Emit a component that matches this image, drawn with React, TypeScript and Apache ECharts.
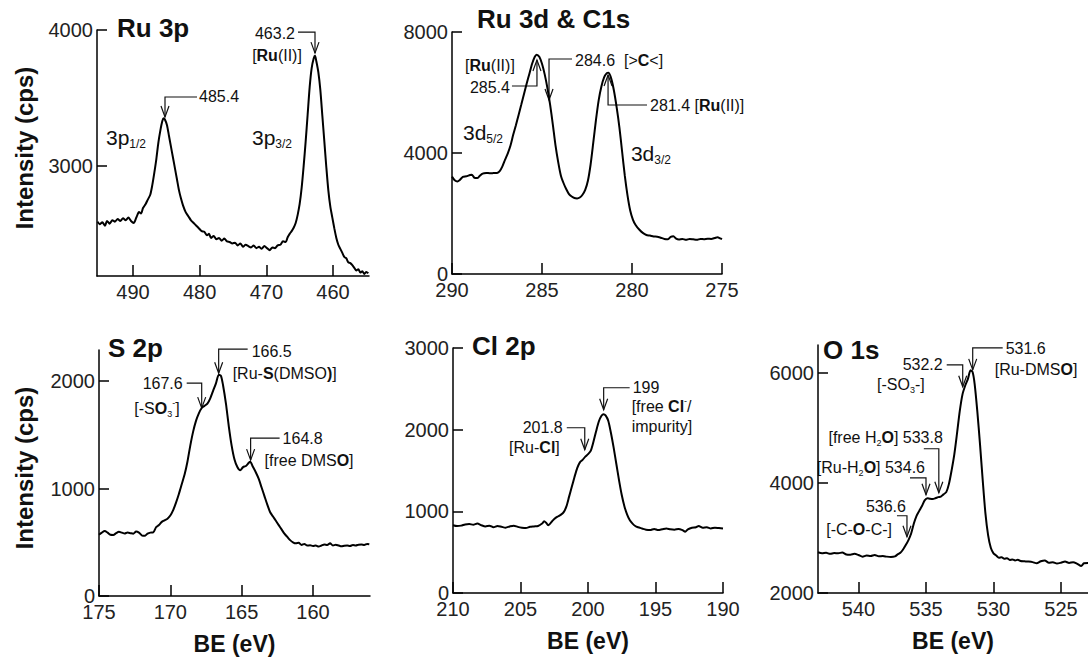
import React, { useEffect, useRef } from "react";
import * as echarts from "echarts";

const FONT = "'Liberation Sans', Arial, Helvetica, sans-serif";
const INK = "#111";

// ---------- data (BE in eV, intensity in cps) ----------
const ru3p = [
  [495.3, 2590], [495.0, 2570], [494.6, 2585], [494.2, 2560], [493.9, 2595], [493.5, 2575], [493.1, 2600],
  [492.7, 2590], [492.3, 2610], [491.9, 2595], [491.5, 2615], [491.1, 2600], [490.7, 2620], [490.3, 2595],
  [489.9, 2580], [489.5, 2620], [489.1, 2660], [488.8, 2650], [488.5, 2690], [488.1, 2720], [487.8, 2750],
  [487.4, 2790], [487.1, 2860], [486.8, 2950], [486.5, 3050], [486.2, 3170], [485.9, 3260], [485.6, 3330],
  [485.4, 3350], [485.2, 3340], [484.9, 3300], [484.6, 3220], [484.3, 3140], [484.0, 3060], [483.7, 2980],
  [483.4, 2900], [483.1, 2820], [482.8, 2760], [482.5, 2710], [482.1, 2660], [481.7, 2630], [481.3, 2600],
  [480.9, 2580], [480.5, 2560], [480.1, 2540], [479.7, 2520], [479.3, 2515], [478.9, 2490], [478.6, 2500],
  [478.3, 2470], [477.9, 2485], [477.5, 2460], [477.1, 2470], [476.7, 2450], [476.3, 2465], [475.9, 2445],
  [475.5, 2440], [475.1, 2430], [474.7, 2435], [474.3, 2415], [473.9, 2430], [473.5, 2405], [473.1, 2420],
  [472.7, 2410], [472.3, 2400], [471.9, 2415], [471.5, 2395], [471.1, 2405], [470.7, 2390], [470.3, 2410],
  [469.9, 2395], [469.5, 2380], [469.1, 2400], [468.7, 2395], [468.3, 2415], [467.9, 2420], [467.5, 2445],
  [467.1, 2440], [466.8, 2475], [466.5, 2500], [466.2, 2520], [465.9, 2545], [465.6, 2580], [465.3, 2640],
  [465.0, 2720], [464.7, 2840], [464.4, 3000], [464.1, 3180], [463.8, 3380], [463.5, 3580], [463.2, 3720],
  [462.9, 3790], [462.7, 3810], [462.5, 3770], [462.2, 3690], [461.9, 3560], [461.6, 3370], [461.3, 3180],
  [461.0, 2990], [460.7, 2820], [460.4, 2700], [460.1, 2620], [459.8, 2540], [459.5, 2470], [459.2, 2420],
  [458.9, 2390], [458.6, 2360], [458.3, 2330], [458.0, 2320], [457.7, 2290], [457.4, 2285], [457.1, 2270],
  [456.8, 2250], [456.5, 2230], [456.2, 2240], [455.9, 2215], [455.6, 2225], [455.3, 2205], [455.0, 2220],
  [454.7, 2210],
];

const ru3d = [
  [290.0, 3220], [289.85, 3100], [289.7, 3060], [289.55, 3120], [289.4, 3210], [289.2, 3230], [289.0, 3270],
  [288.9, 3280], [288.75, 3180], [288.6, 3170], [288.45, 3250], [288.3, 3320], [288.1, 3340], [287.9, 3330],
  [287.7, 3335], [287.5, 3340], [287.35, 3400], [287.2, 3560], [287.05, 3780], [286.9, 3990], [286.75, 4250],
  [286.6, 4600], [286.45, 4920], [286.3, 5260], [286.15, 5600], [286.0, 5950], [285.85, 6300], [285.7, 6620],
  [285.55, 6950], [285.4, 7180], [285.3, 7250], [285.15, 7180], [285.0, 6950], [284.85, 6600], [284.7, 6150],
  [284.55, 5600], [284.4, 4950], [284.25, 4250], [284.1, 3700], [283.95, 3250], [283.8, 3000], [283.65, 2800],
  [283.5, 2640], [283.35, 2560], [283.2, 2510], [283.05, 2500], [282.9, 2530], [282.75, 2620], [282.6, 2780],
  [282.45, 3080], [282.3, 3620], [282.15, 4350], [282.0, 5100], [281.85, 5750], [281.7, 6200], [281.55, 6500],
  [281.4, 6640], [281.3, 6650], [281.15, 6450], [281.0, 6050], [280.85, 5500], [280.7, 4850], [280.55, 4050],
  [280.4, 3250], [280.25, 2600], [280.1, 2100], [279.95, 1800], [279.8, 1620], [279.6, 1470], [279.4, 1360],
  [279.2, 1290], [279.0, 1270], [278.8, 1240], [278.6, 1235], [278.4, 1200], [278.2, 1160], [278.0, 1150],
  [277.85, 1230], [277.7, 1250], [277.55, 1170], [277.4, 1140], [277.2, 1160], [277.0, 1130], [276.8, 1160],
  [276.6, 1145], [276.4, 1130], [276.2, 1160], [276.0, 1150], [275.8, 1165], [275.6, 1160], [275.4, 1190],
  [275.25, 1215], [275.1, 1180], [275.0, 1150],
];

const s2p = [
  [175.0, 570], [174.8, 590], [174.6, 605], [174.4, 590], [174.2, 570], [174.0, 568], [173.8, 585], [173.6, 598],
  [173.4, 590], [173.2, 582], [173.0, 590], [172.8, 585], [172.6, 580], [172.4, 600], [172.2, 590], [172.0, 565],
  [171.8, 560], [171.6, 580], [171.4, 590], [171.2, 592], [171.0, 640], [170.8, 660], [170.6, 690], [170.4, 705],
  [170.2, 720], [170.0, 750], [169.8, 800], [169.6, 870], [169.4, 950], [169.2, 1040], [169.0, 1130], [168.8, 1250],
  [168.6, 1400], [168.4, 1530], [168.2, 1630], [168.0, 1700], [167.8, 1750], [167.6, 1770], [167.4, 1790],
  [167.2, 1840], [167.0, 1910], [166.8, 1980], [166.6, 2060], [166.45, 2050], [166.3, 1960], [166.1, 1790],
  [165.9, 1580], [165.7, 1400], [165.5, 1270], [165.3, 1200], [165.1, 1170], [164.9, 1200], [164.7, 1210],
  [164.5, 1240], [164.4, 1250], [164.2, 1200], [164.0, 1150], [163.8, 1090], [163.6, 1010], [163.4, 930],
  [163.2, 850], [163.0, 780], [162.8, 740], [162.6, 700], [162.4, 660], [162.2, 620], [162.0, 580], [161.8, 550],
  [161.6, 520], [161.4, 500], [161.2, 490], [161.0, 495], [160.8, 475], [160.6, 485], [160.4, 470], [160.2, 472],
  [160.0, 465], [159.8, 470], [159.6, 460], [159.4, 470], [159.2, 480], [159.0, 475], [158.8, 490], [158.6, 470],
  [158.4, 478], [158.2, 470], [158.0, 462], [157.8, 468], [157.6, 470], [157.4, 465], [157.2, 475], [157.0, 470],
  [156.8, 478], [156.6, 480], [156.4, 475], [156.2, 485], [156.05, 482],
];

const cl2p = [
  [210.0, 830], [209.7, 820], [209.4, 825], [209.1, 840], [208.8, 845], [208.5, 835], [208.2, 850], [207.9, 830],
  [207.6, 815], [207.3, 825], [207.0, 805], [206.7, 820], [206.4, 810], [206.1, 800], [205.8, 815], [205.5, 825],
  [205.2, 810], [204.9, 800], [204.6, 795], [204.3, 810], [204.0, 815], [203.7, 820], [203.4, 850], [203.25, 880],
  [203.1, 860], [202.95, 830], [202.8, 850], [202.6, 890], [202.4, 920], [202.2, 940], [202.0, 960], [201.8, 990],
  [201.6, 1060], [201.4, 1180], [201.2, 1300], [201.0, 1420], [200.8, 1530], [200.6, 1600], [200.4, 1630],
  [200.2, 1670], [200.0, 1700], [199.8, 1740], [199.6, 1850], [199.4, 1980], [199.2, 2100], [199.0, 2170],
  [198.85, 2190], [198.7, 2175], [198.5, 2110], [198.3, 1960], [198.1, 1780], [197.9, 1580], [197.7, 1380],
  [197.5, 1200], [197.3, 1060], [197.1, 960], [196.9, 890], [196.7, 850], [196.5, 820], [196.3, 805], [196.0, 790],
  [195.7, 775], [195.4, 770], [195.1, 785], [194.8, 770], [194.5, 780], [194.2, 790], [193.9, 780], [193.6, 775],
  [193.3, 785], [193.0, 770], [192.8, 750], [192.6, 780], [192.3, 800], [192.0, 805], [191.8, 820], [191.5, 800],
  [191.2, 805], [190.9, 790], [190.6, 800], [190.3, 795], [190.0, 790],
];

const o1s = [
  [543.0, 2740], [542.7, 2720], [542.4, 2730], [542.1, 2710], [541.8, 2725], [541.5, 2720], [541.2, 2735],
  [540.9, 2700], [540.6, 2695], [540.3, 2710], [540.0, 2690], [539.7, 2660], [539.4, 2680], [539.1, 2670],
  [538.8, 2690], [538.5, 2665], [538.2, 2670], [537.9, 2660], [537.6, 2655], [537.3, 2665], [537.1, 2700],
  [536.9, 2730], [536.7, 2790], [536.5, 2870], [536.3, 2960], [536.1, 3080], [535.9, 3260], [535.7, 3400],
  [535.5, 3490], [535.3, 3580], [535.1, 3680], [534.9, 3720], [534.7, 3710], [534.5, 3705], [534.3, 3720],
  [534.1, 3740], [533.9, 3750], [533.7, 3790], [533.5, 3830], [533.3, 3980], [533.1, 4230], [532.9, 4520],
  [532.7, 4900], [532.5, 5300], [532.3, 5600], [532.1, 5760], [531.9, 5880], [531.7, 6040], [531.55, 6010],
  [531.4, 5800], [531.2, 5300], [531.0, 4700], [530.8, 4050], [530.6, 3450], [530.4, 3050], [530.2, 2820],
  [530.0, 2720], [529.8, 2680], [529.6, 2640], [529.4, 2650], [529.2, 2620], [529.0, 2630], [528.8, 2600],
  [528.6, 2610], [528.4, 2590], [528.2, 2605], [528.0, 2580], [527.7, 2575], [527.4, 2570], [527.1, 2560],
  [526.8, 2540], [526.5, 2575], [526.2, 2590], [525.9, 2550], [525.6, 2560], [525.3, 2535], [525.0, 2550],
  [524.7, 2570], [524.4, 2545], [524.1, 2560], [523.8, 2530], [523.5, 2490], [523.3, 2540], [523.0, 2545],
];

const panelTitles = ["Ru 3p", "Ru 3d & C1s", "S 2p", "Cl 2p", "O 1s"];
const xRanges = [[454.6, 495.4], [275, 290], [156, 175], [190, 210], [523, 543]];
const yRanges = [[2190, 4000], [0, 8000], [0, 2290], [0, 3000], [2000, 6500]];
const xTicks = [[460, 470, 480, 490], [275, 280, 285, 290], [160, 165, 170, 175], [190, 195, 200, 205, 210], [525, 530, 535, 540]];
const yTicks = [[3000, 4000], [0, 4000, 8000], [0, 1000, 2000], [0, 1000, 2000, 3000], [2000, 4000, 6000]];
const seriesData = [ru3p, ru3d, s2p, cl2p, o1s];

// ---------- layout ----------
const GRIDS = [
  { left: 97, top: 30, width: 272, height: 246 },
  { left: 452, top: 32, width: 270, height: 242 },
  { left: 99, top: 350, width: 271, height: 246 },
  { left: 453, top: 348, width: 270, height: 245 },
  { left: 818, top: 345, width: 270, height: 248 },
];
const TITLE_POS = [[117, 28], [477, 19], [108, 348], [472, 346], [823, 350]];

// annotations: arrow tip in data coords, leader geometry in px
const annotations = [
  { grid: 0, tip: [485.2, 3360], dir: "down", rise: 20, run: 32, texts: [{ t: "485.4", dx: 34, dy: -20, align: "left" }] },
  { grid: 0, tip: [462.7, 3830], dir: "down", rise: 21, run: -17, texts: [{ t: "463.2", dx: -20, dy: -20, align: "right" }, { t: "[{b|Ru}(II)]", dx: -38, dy: 2, align: "center" }] },
  { grid: 1, tip: [285.28, 7074], dir: "up", rise: 26, run: -25, texts: [{ t: "285.4", dx: -27, dy: 27, align: "right" }, { t: "[{b|Ru}(II)]", dx: -47, dy: 5, align: "center" }] },
  { grid: 1, tip: [284.61, 5752], dir: "down", rise: 41, run: 23, texts: [{ t: "284.6  [>{b|C}<]", dx: 26, dy: -40, align: "left" }] },
  { grid: 1, tip: [281.33, 6578], dir: "up", rise: 30, run: 39, texts: [{ t: "281.4 [{b|Ru}(II)]", dx: 42, dy: 30, align: "left" }] },
  { grid: 2, tip: [166.61, 2074], dir: "down", rise: 24, run: 29, texts: [{ t: "166.5", dx: 33, dy: -22, align: "left" }, { t: "[Ru-{b|S}(DMSO{b|)}]", dx: 14, dy: 0, align: "left" }] },
  { grid: 2, tip: [167.8, 1749], dir: "down", rise: 25, run: -15, texts: [{ t: "167.6", dx: -19, dy: -25, align: "right" }, { t: "[-S{b|O}{sub|3}{sup|-}]", dx: -22, dy: 0, align: "right" }] },
  { grid: 2, tip: [164.37, 1265], dir: "down", rise: 22, run: 29, texts: [{ t: "164.8", dx: 32, dy: -22, align: "left" }, { t: "[free DMS{b|O}]", dx: 14, dy: 0, align: "left" }] },
  { grid: 3, tip: [198.84, 2244], dir: "down", rise: 22, run: 26, texts: [{ t: "199", dx: 29, dy: -22, align: "left" }, { t: "[free {b|Cl}{sup|-}/", dx: 28, dy: -3, align: "left" }, { t: "impurity]", dx: 28, dy: 17, align: "left" }] },
  { grid: 3, tip: [200.24, 1754], dir: "down", rise: 22, run: -18, texts: [{ t: "201.8", dx: -22, dy: -22, align: "right" }, { t: "[Ru-{b|Cl}]", dx: -25, dy: -2, align: "right" }] },
  { grid: 4, tip: [531.54, 6049], dir: "down", rise: 22, run: 30, texts: [{ t: "531.6", dx: 33, dy: -21, align: "left" }, { t: "[Ru-DMS{b|O}]", dx: 22, dy: 0, align: "left" }] },
  { grid: 4, tip: [532.28, 5741], dir: "down", rise: 22, run: -16, texts: [{ t: "532.2", dx: -20, dy: -22, align: "right" }, { t: "[-SO{sub|3}-]", dx: -38, dy: -2, align: "right" }] },
  { grid: 4, tip: [534.05, 3819], dir: "down", rise: 44, run: -15, texts: [{ t: "[free H{sub|2}{b|O}] 533.8", dx: 4, dy: -55, align: "right" }] },
  { grid: 4, tip: [535.0, 3782], dir: "down", rise: 17, run: -16, texts: [{ t: "[Ru-H{sub|2}{b|O}] 534.6", dx: -1, dy: -27, align: "right" }] },
  { grid: 4, tip: [536.41, 3021], dir: "down", rise: 21, run: -10, texts: [{ t: "536.6", dx: -1, dy: -30, align: "right" }, { t: "[-C-{b|O}-C-]", dx: -15, dy: -7, align: "right" }] },
];

// orbital labels (position in data coords)
const orbitalLabels = [
  { grid: 0, at: [494.05, 3206], t: "3p{sub|1/2}" },
  { grid: 0, at: [472.15, 3206], t: "3p{sub|3/2}" },
  { grid: 1, at: [289.39, 4694], t: "3d{sub|5/2}" },
  { grid: 1, at: [280.06, 4000], t: "3d{sub|3/2}" },
];

function richStyles(size: number) {
  const s = Math.round(size * 0.55);
  return {
    b: { fontSize: size, fontFamily: FONT, fontWeight: "bold", lineHeight: size + 4, fill: INK },
    sub: { fontSize: s, fontFamily: FONT, lineHeight: s, verticalAlign: "bottom", fill: INK },
    sup: { fontSize: s, fontFamily: FONT, lineHeight: s, verticalAlign: "top", fill: INK },
  };
}

function textEl(t: string, x: number, y: number, size: number, align: string, extra: any = {}) {
  return {
    type: "text",
    x,
    y,
    silent: true,
    style: {
      text: t,
      fill: INK,
      fontSize: size,
      fontFamily: FONT,
      lineHeight: size + 4,
      align,
      verticalAlign: "middle",
      rich: richStyles(size),
      ...extra,
    },
  };
}

const plain = (v: number) => String(v);

export default function App() {
  const ref = useRef<HTMLDivElement>(null);

  useEffect(() => {
    if (!ref.current) return;
    const chart = echarts.init(ref.current, null, { renderer: "svg" });

    const axisLineStyle = { color: "#000", width: 1.5 };
    const option: any = {
      animation: false,
      backgroundColor: "#fff",
      grid: GRIDS.map((g) => ({ ...g, containLabel: false })),
      xAxis: GRIDS.map((_, i) => ({
        type: "value",
        gridIndex: i,
        min: xRanges[i][0],
        max: xRanges[i][1],
        inverse: true,
        axisLine: { show: true, onZero: false, lineStyle: axisLineStyle },
        axisTick: { show: true, inside: true, length: 11, lineStyle: axisLineStyle, customValues: xTicks[i] },
        axisLabel: { show: true, customValues: xTicks[i], formatter: plain, fontSize: 20, fontFamily: FONT, color: "#222", margin: 6 },
        splitLine: { show: false },
        ...(i >= 2
          ? {
              name: "BE (eV)",
              nameLocation: "middle",
              nameGap: 36,
              nameTextStyle: { fontSize: 23, fontWeight: "bold", fontFamily: FONT, color: "#111" },
            }
          : {}),
      })),
      yAxis: GRIDS.map((_, i) => ({
        type: "value",
        gridIndex: i,
        min: yRanges[i][0],
        max: yRanges[i][1],
        axisLine: { show: true, onZero: false, lineStyle: axisLineStyle },
        axisTick: { show: true, inside: true, length: 10, lineStyle: axisLineStyle, customValues: yTicks[i] },
        axisLabel: { show: true, customValues: yTicks[i], formatter: plain, fontSize: 20, fontFamily: FONT, color: "#222", margin: 4 },
        splitLine: { show: false },
      })),
      series: seriesData.map((d, i) => ({
        type: "line",
        xAxisIndex: i,
        yAxisIndex: i,
        data: d,
        showSymbol: false,
        symbol: "none",
        smooth: 0.25,
        lineStyle: { color: "#000", width: 2 },
        silent: true,
      })),
    };
    chart.setOption(option);

    const g: any[] = [];
    panelTitles.forEach((t, i) => {
      g.push(textEl(t, TITLE_POS[i][0], TITLE_POS[i][1], 26, "left", { fontWeight: "bold" }));
    });
    // y axis titles
    [148, 468].forEach((y) => {
      g.push({
        type: "text",
        x: 24,
        y,
        rotation: Math.PI / 2,
        silent: true,
        style: {
          text: "Intensity (cps)",
          fill: INK,
          fontSize: 24,
          fontWeight: "bold",
          fontFamily: FONT,
          align: "center",
          verticalAlign: "middle",
        },
      });
    });

    orbitalLabels.forEach((o) => {
      const [px, py] = chart.convertToPixel({ gridIndex: o.grid }, o.at) as number[];
      g.push(textEl(o.t, px, py, 21, "left"));
    });

    annotations.forEach((a) => {
      const [tx, ty] = chart.convertToPixel({ gridIndex: a.grid }, a.tip) as number[];
      const sgn = a.dir === "down" ? -1 : 1;
      const ly = ty + sgn * a.rise;
      g.push({
        type: "polyline",
        silent: true,
        shape: { points: [[tx + a.run, ly], [tx, ly], [tx, ty]] },
        style: { stroke: INK, lineWidth: 1.2, fill: null },
      });
      g.push({
        type: "polyline",
        silent: true,
        shape: { points: [[tx - 4, ty + sgn * 11], [tx, ty], [tx + 4, ty + sgn * 11]] },
        style: { stroke: INK, lineWidth: 1.2, fill: null },
      });
      a.texts.forEach((t) => {
        g.push(textEl(t.t, tx + t.dx, ty + t.dy, 16, t.align));
      });
    });

    chart.setOption({ graphic: g });

    return () => chart.dispose();
  }, []);

  return (
    <div
      ref={ref}
      style={{ position: "fixed", left: 0, top: 0, width: 1088, height: 657, background: "#fff" }}
    />
  );
}
